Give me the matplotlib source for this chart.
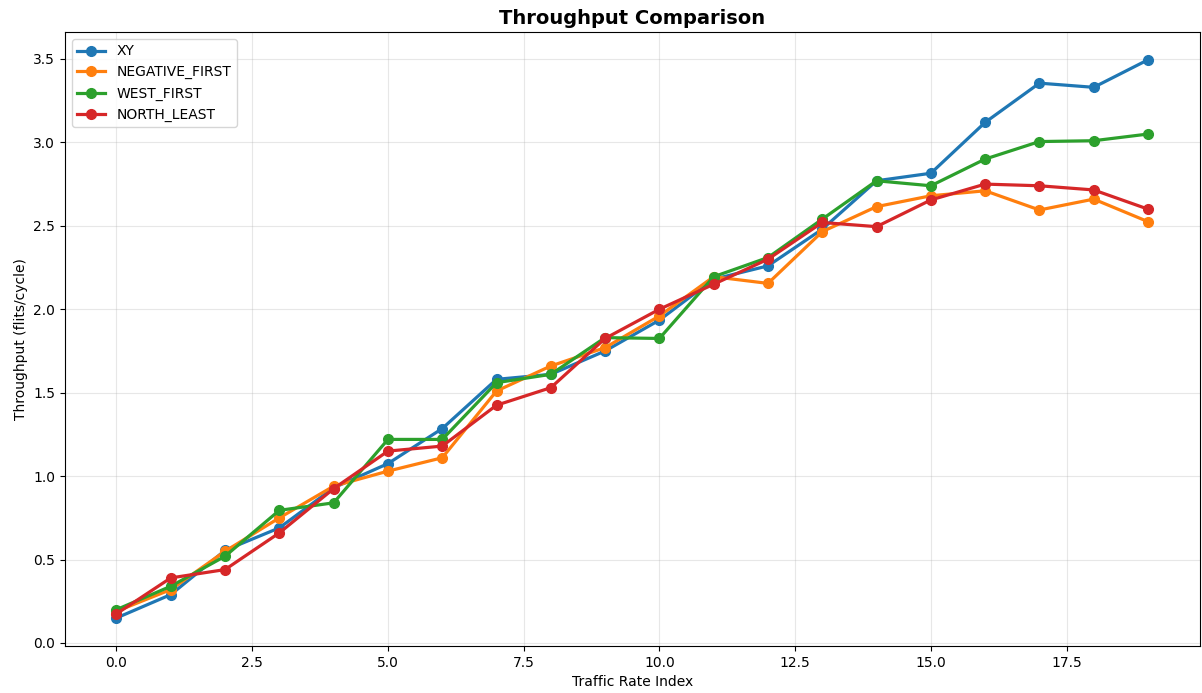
import matplotlib
matplotlib.use("Agg")
import matplotlib.pyplot as plt

x = list(range(20))
xy = [0.15, 0.29, 0.555, 0.69, 0.93, 1.075, 1.285, 1.58, 1.61, 1.75, 1.935, 2.18, 2.26, 2.48, 2.77, 2.815, 3.12, 3.355, 3.33, 3.495]
negative_first = [0.19, 0.32, 0.55, 0.75, 0.94, 1.03, 1.11, 1.51, 1.66, 1.77, 1.96, 2.195, 2.155, 2.465, 2.615, 2.68, 2.71, 2.595, 2.66, 2.525]
west_first = [0.2, 0.34, 0.52, 0.795, 0.84, 1.22, 1.22, 1.56, 1.61, 1.83, 1.825, 2.195, 2.31, 2.54, 2.77, 2.74, 2.9, 3.005, 3.01, 3.05]
north_least = [0.175, 0.39, 0.44, 0.66, 0.925, 1.15, 1.18, 1.425, 1.53, 1.825, 2.0, 2.15, 2.30, 2.52, 2.495, 2.655, 2.75, 2.74, 2.715, 2.6]

series = [("XY", xy), ("NEGATIVE_FIRST", negative_first), ("WEST_FIRST", west_first), ("NORTH_LEAST", north_least)]

fig, ax = plt.subplots(figsize=(12.02, 6.93), dpi=100)
for name, vals in series:
    ax.plot(x, vals, marker='o', linewidth=2.3, markersize=7, label=name)

ax.set_title("Throughput Comparison", fontsize=14, fontweight='bold')
ax.set_xlabel("Traffic Rate Index")
ax.set_ylabel("Throughput (flits/cycle)")
ax.grid(True, alpha=0.3)
ax.legend(loc='upper left')
fig.subplots_adjust(left=0.054, right=0.998, top=0.954, bottom=0.068)
fig.savefig("out.png", dpi=100)
